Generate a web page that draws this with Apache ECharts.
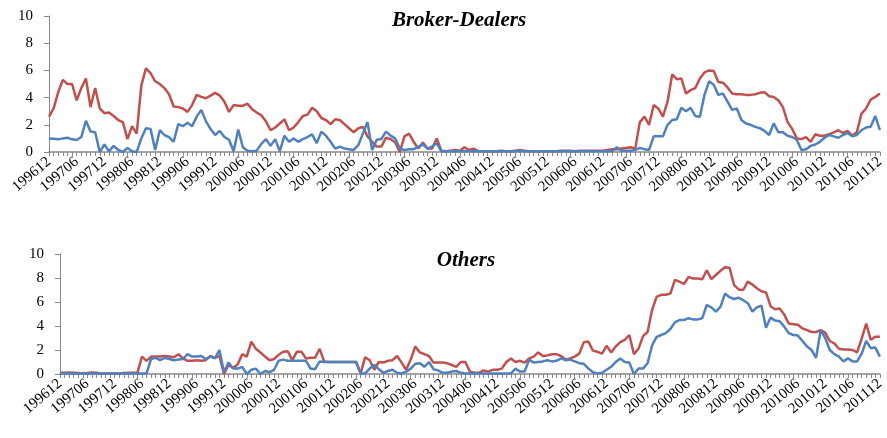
<!DOCTYPE html>
<html>
<head>
<meta charset="utf-8">
<script src="https://cdn.jsdelivr.net/npm/echarts@6/dist/echarts.min.js"></script>
<style>
  html, body { margin: 0; padding: 0; background: #fff; }
  #chart { width: 887px; height: 438px; }
</style>
</head>
<body>
<div id="chart"></div>
<script>
// months 199612 .. 201112
const months = []
for (let y = 1996, m = 12; y < 2011 || (y === 2011 && m <= 12); ) {
  months.push(String(y) + (m < 10 ? '0' + m : m))
  m++
  if (m > 12) { m = 1; y++ }
}

const yTicks = [0, 2, 4, 6, 8, 10]

// Broker-Dealers panel
const bdRed = [
  2.6, 3.2, 4.4, 5.3, 5.0, 5.0, 3.8, 4.7, 5.4, 3.3, 4.7, 3.2, 2.85, 2.9, 2.65, 2.35, 2.2, 0.95, 1.9, 1.35,
  4.9, 6.15, 5.8, 5.2, 5.0, 4.7, 4.25, 3.35, 3.3, 3.2, 2.95, 3.45, 4.2, 4.05, 3.95, 4.15, 4.35, 4.15, 3.7, 2.95,
  3.45, 3.4, 3.4, 3.55, 3.15, 2.9, 2.7, 2.25, 1.6, 1.8, 2.1, 2.4, 1.6, 1.8, 2.2, 2.65, 2.75, 3.25, 3.0, 2.5,
  2.35, 2.05, 2.4, 2.35, 2.05, 1.75, 1.45, 1.75, 1.85, 1.15, 0.75, 0.4, 0.4, 1.05, 0.95, 0.7, 0.0, 1.15, 1.35, 0.75,
  0.25, 0.7, 0.25, 0.25, 1.0, 0.1, 0.05, 0.1, 0.15, 0.1, 0.35, 0.15, 0.25, 0.05, 0.05, 0.05, 0.05, 0.05, 0.1, 0.05,
  0.05, 0.1, 0.15, 0.1, 0.05, 0.05, 0.05, 0.05, 0.05, 0.05, 0.05, 0.1, 0.1, 0.1, 0.05, 0.1, 0.1, 0.1, 0.1, 0.1,
  0.1, 0.15, 0.2, 0.2, 0.25, 0.3, 0.35, 0.25, 2.2, 2.6, 2.0, 3.45, 3.2, 2.6, 3.7, 5.7, 5.35, 5.4, 4.3, 4.55,
  4.7, 5.4, 5.85, 6.0, 5.95, 5.15, 5.1, 4.75, 4.3, 4.25, 4.25, 4.2, 4.2, 4.25, 4.35, 4.4, 4.1, 4.05, 3.8, 3.3,
  2.2, 1.7, 1.0, 0.95, 1.1, 0.75, 1.3, 1.2, 1.2, 1.3, 1.45, 1.6, 1.4, 1.55, 1.2, 1.45, 2.8, 3.2, 3.85, 4.05,
  4.3
]
const bdBlue = [
  1.0, 0.98, 0.93, 1.0, 1.05, 0.93, 0.88, 1.1, 2.3, 1.5, 1.45, 0.0, 0.55, 0.05, 0.45, 0.15, 0.0, 0.3, 0.05, 0.0,
  1.0, 1.75, 1.7, 0.15, 1.6, 1.25, 1.1, 0.75, 2.05, 1.9, 2.15, 1.9, 2.6, 3.1, 2.25, 1.7, 1.25, 1.55, 1.1, 0.9,
  0.05, 1.65, 0.35, 0.1, 0.05, 0.1, 0.6, 0.95, 0.45, 0.95, 0.05, 1.2, 0.75, 1.0, 0.75, 0.95, 1.1, 1.3, 0.65, 1.5,
  1.2, 0.75, 0.25, 0.4, 0.25, 0.2, 0.15, 0.5, 1.35, 2.2, 0.15, 0.9, 0.95, 1.5, 1.2, 1.0, 0.25, 0.15, 0.2, 0.2,
  0.4, 0.55, 0.25, 0.4, 0.65, 0.05, 0.05, 0.05, 0.05, 0.05, 0.05, 0.05, 0.05, 0.05, 0.05, 0.05, 0.05, 0.05, 0.05, 0.05,
  0.05, 0.05, 0.1, 0.05, 0.05, 0.05, 0.05, 0.05, 0.05, 0.05, 0.05, 0.05, 0.05, 0.05, 0.05, 0.05, 0.05, 0.05, 0.05, 0.05,
  0.05, 0.05, 0.05, 0.35, 0.1, 0.1, 0.1, 0.15, 0.3, 0.2, 0.15, 1.15, 1.15, 1.15, 2.0, 2.35, 2.4, 3.25, 3.0, 3.25,
  2.65, 2.6, 4.2, 5.2, 4.95, 4.2, 4.3, 3.7, 3.1, 3.2, 2.35, 2.1, 2.0, 1.85, 1.75, 1.55, 1.25, 2.1, 1.45, 1.45,
  1.2, 1.1, 0.9, 0.15, 0.2, 0.45, 0.55, 0.75, 1.05, 1.25, 1.15, 1.05, 1.25, 1.4, 1.15, 1.25, 1.6, 1.8, 1.85, 2.65,
  1.6
]

// Others panel
const otRed = [
  0.1, 0.1, 0.12, 0.1, 0.08, 0.05, 0.08, 0.12, 0.1, 0.05, 0.05, 0.05, 0.05, 0.05, 0.08, 0.1, 0.1, 0.12, 1.45, 1.1,
  1.45, 1.45, 1.45, 1.5, 1.45, 1.4, 1.65, 1.3, 1.1, 1.1, 1.15, 1.1, 1.15, 1.5, 1.35, 1.5, 0.0, 0.75, 0.5, 0.8,
  1.65, 1.45, 2.7, 2.1, 1.8, 1.45, 1.15, 1.25, 1.6, 1.85, 1.9, 1.15, 1.85, 1.85, 1.3, 1.35, 1.35, 2.1, 1.05, 1.0,
  1.0, 1.0, 1.0, 1.0, 1.0, 1.0, 0.05, 1.4, 1.15, 0.35, 1.0, 0.95, 1.1, 1.15, 1.5, 0.95, 0.35, 1.2, 2.3, 1.8,
  1.65, 1.5, 0.95, 0.95, 0.95, 0.9, 0.75, 0.6, 1.0, 1.0, 0.2, 0.1, 0.1, 0.3, 0.2, 0.35, 0.35, 0.45, 1.0, 1.3,
  1.0, 1.1, 0.95, 1.3, 1.45, 1.8, 1.5, 1.55, 1.65, 1.65, 1.5, 1.2, 1.3, 1.45, 1.7, 2.65, 2.7, 1.95, 1.85, 1.7,
  2.35, 1.8, 2.3, 2.65, 2.85, 3.25, 1.65, 2.1, 3.15, 3.5, 5.35, 6.45, 6.6, 6.6, 6.7, 7.85, 7.7, 7.5, 8.1, 7.95,
  7.95, 7.9, 8.65, 7.9, 8.25, 8.6, 8.9, 8.85, 7.4, 7.05, 7.0, 7.7, 7.45, 7.15, 6.9, 6.8, 5.65, 5.4, 5.45, 4.95,
  4.2, 4.15, 4.1, 3.8, 3.65, 3.5, 3.5, 3.65, 3.45, 2.75, 2.55, 2.1, 2.05, 2.05, 2.0, 1.8, 2.95, 4.2, 2.85, 3.1,
  3.1
]
const otBlue = [
  0.05, 0.05, 0.05, 0.05, 0.05, 0.05, 0.05, 0.05, 0.05, 0.05, 0.05, 0.05, 0.05, 0.05, 0.05, 0.05, 0.05, 0.05, 0.05, 0.05,
  1.25, 1.35, 1.15, 1.35, 1.25, 1.15, 1.2, 1.25, 1.65, 1.45, 1.45, 1.5, 1.25, 1.45, 1.3, 2.0, 0.15, 0.95, 0.45, 0.45,
  0.6, 0.0, 0.35, 0.45, 0.0, 0.25, 0.15, 0.35, 1.1, 1.2, 1.1, 1.1, 1.1, 1.1, 1.1, 0.45, 0.4, 1.05, 1.0, 1.0,
  1.0, 1.0, 1.0, 1.0, 1.0, 1.0, 0.05, 0.05, 0.45, 0.75, 0.4, 0.1, 0.25, 0.35, 0.1, 0.05, 0.2, 0.45, 0.85, 0.9,
  0.6, 1.0, 0.4, 0.3, 0.1, 0.1, 0.2, 0.25, 0.1, 0.05, 0.05, 0.05, 0.05, 0.05, 0.05, 0.05, 0.05, 0.05, 0.05, 0.05,
  0.45, 0.2, 0.2, 1.2, 0.95, 1.0, 1.05, 1.15, 1.05, 1.1, 1.3, 1.15, 1.2, 1.05, 0.9, 0.85, 0.45, 0.15, 0.05, 0.1,
  0.35, 0.6, 1.0, 1.3, 1.0, 0.95, 0.0, 0.45, 0.45, 0.9, 2.4, 3.1, 3.25, 3.4, 3.75, 4.3, 4.5, 4.5, 4.65, 4.55,
  4.55, 4.65, 5.75, 5.55, 5.2, 5.6, 6.7, 6.4, 6.25, 6.35, 6.15, 5.9, 5.2, 5.55, 5.7, 3.85, 4.7, 4.45, 4.4, 3.95,
  3.4, 3.25, 3.2, 2.75, 2.3, 2.0, 1.35, 3.65, 3.0, 2.0, 1.65, 1.45, 1.05, 1.3, 1.05, 1.05, 1.7, 2.75, 2.15, 2.2,
  1.45
]

const serif = 'Liberation Serif, Times New Roman, serif'
const axisGray = '#898989'

const chart = echarts.init(document.getElementById('chart'))

const makeX = (gridIndex) => ({
  type: 'category',
  gridIndex,
  data: months,
  boundaryGap: false,
  axisLine: { lineStyle: { color: axisGray, width: 1.5 } },
  axisTick: { show: true, interval: 0, length: 4, lineStyle: { color: axisGray, width: 1 } },
  axisLabel: {
    interval: 5,
    rotate: 40,
    margin: 8,
    fontFamily: serif,
    fontSize: 15,
    color: '#000'
  },
  splitLine: { show: false }
})

const makeY = (gridIndex) => ({
  type: 'value',
  gridIndex,
  min: yTicks[0],
  max: yTicks[yTicks.length - 1],
  interval: 2,
  axisLine: { show: true, lineStyle: { color: axisGray, width: 1 } },
  axisTick: { show: true, length: 5, lineStyle: { color: axisGray } },
  axisLabel: { fontFamily: serif, fontSize: 15, color: '#000', margin: 16 },
  splitLine: { show: false }
})

const makeLine = (data, color, idx) => ({
  type: 'line',
  xAxisIndex: idx,
  yAxisIndex: idx,
  data,
  symbol: 'none',
  smooth: false,
  lineStyle: { color, width: 2.5 },
  itemStyle: { color },
  animation: false
})

chart.setOption({
  animation: false,
  title: [
    {
      text: 'Broker-Dealers',
      left: 454,
      top: 5,
      textAlign: 'center',
      textStyle: { fontFamily: serif, fontSize: 21, fontStyle: 'italic', fontWeight: 'bold', color: '#000' }
    },
    {
      text: 'Others',
      left: 461,
      top: 245,
      textAlign: 'center',
      textStyle: { fontFamily: serif, fontSize: 21, fontStyle: 'italic', fontWeight: 'bold', color: '#000' }
    }
  ],
  grid: [
    { left: 49, right: 5, top: 16, height: 136 },
    { left: 60, right: 3, top: 254, height: 120 }
  ],
  xAxis: [makeX(0), makeX(1)],
  yAxis: [makeY(0), makeY(1)],
  series: [
    makeLine(bdRed, '#C0504D', 0),
    makeLine(bdBlue, '#4F81BD', 0),
    makeLine(otRed, '#C0504D', 1),
    makeLine(otBlue, '#4F81BD', 1)
  ]
})
</script>
</body>
</html>
